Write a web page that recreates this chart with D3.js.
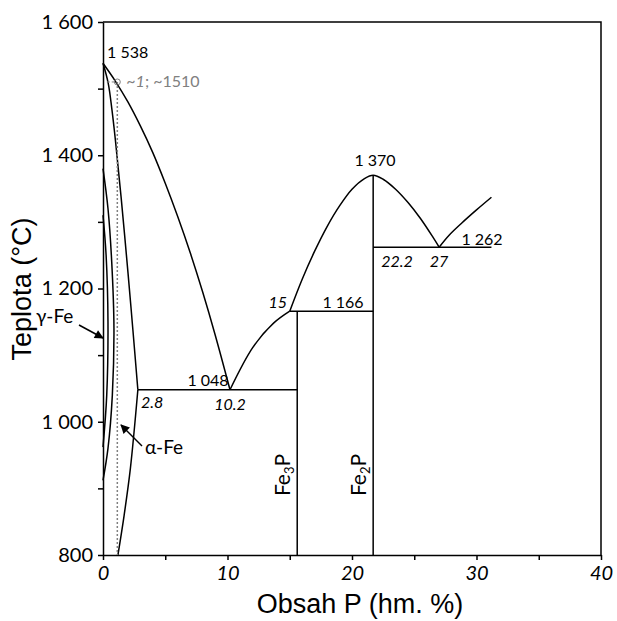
<!DOCTYPE html>
<html>
<head>
  <meta charset="utf-8">
  <title>Fe-P</title>
  <script src="https://cdn.jsdelivr.net/npm/d3@7"></script>
  <style>
    body { margin: 0; background: #fff; }
    text { font-family: Lato, "Open Sans", sans-serif; fill: #000; }
    .tick text { font-size: 20px; }
    .xax .tick text { font-style: italic; }
    .title { font-family: "Liberation Sans", Arial, sans-serif; font-size: 27px; }
    .lab { font-size: 16px; }
    .it { font-style: italic; }
  </style>
</head>
<body>
<svg id="chart" width="617" height="621"></svg>
<script>
  // curves (wt. % P, degC)
  var liquidusFe   = [[0,1538],[1,1511],[2,1480],[3,1444],[4,1404],[5,1358],[6,1308],[7,1254],[8,1195],[9,1131],[10.2,1048]];
  var liquidusFe3P = [[10.2,1048],[12.05,1112],[13.7,1148],[15,1166]];
  var liquidusFe2P = [[15,1166],[16,1214],[17,1256],[18,1293],[19,1324],[20,1349],[21,1365],[21.7,1370],
                      [22.5,1364],[23.5,1349],[24.5,1329],[25.5,1305],[26.5,1277],[27,1262]];
  var liquidusRight = [[27,1262],[27.8,1280],[28.8,1298],[30,1318],[31.2,1337]];
  var solidusUp    = [[0,1538],[0.42,1508],[0.72,1468],[1.0,1422],[1.45,1338],[2.01,1223],[2.4,1138],[2.8,1048]];
  var solidusLow   = [[2.8,1048],[2.2,930],[1.7,860],[1.2,800]];
  var gammaOuter   = [[0,1380],[0.4,1320],[0.7,1240],[0.88,1140],[0.75,1040],[0.4,960],[0,912]];
  var gammaInner   = [[0,1310],[0.25,1250],[0.4,1150],[0.3,1040],[0,962]];
  // horizontal lines [x1, x2, T]
  var isotherms = [[2.8,15.6,1048],[15,21.7,1166],[21.7,31.2,1262]];
  // compounds [x, Ttop]
  var compounds = [[15.6,1166,"Fe","3","P"],[21.7,1370,"Fe","2","P"]];
  var xTicks = [0,5,10,15,20,25,30,35,40];
  var yTicks = [800,900,1000,1100,1200,1300,1400,1500,1600];

  var svg = d3.select("#chart");
  var x = d3.scaleLinear().domain([0,40]).range([103,601]);
  var y = d3.scaleLinear().domain([800,1600]).range([555,22]);

  //axes
  var fmtY = function(d){ return d % 200 ? "" : (d >= 1000 ? Math.floor(d/1000) + " " + String(d%1000).padStart(3,"0") : d); };
  svg.append("g").attr("class","xax").attr("transform","translate(0,555)")
    .call(d3.axisBottom(x).tickValues(xTicks).tickSize(5).tickSizeOuter(0)
      .tickFormat(function(d){ return d % 10 ? "" : d; }))
    .call(function(g){ g.selectAll("text").attr("dy","0.85em"); });
  svg.append("g").attr("transform","translate(103,0)")
    .call(d3.axisLeft(y).tickValues(yTicks).tickSize(5).tickSizeOuter(0).tickFormat(fmtY))
    .call(function(g){ g.selectAll("text").attr("x",-10); });
  svg.selectAll(".domain, .tick line").attr("stroke","#000").attr("stroke-width",1.5);

  svg.append("path")
    .attr("d","M103,22H601V555")
    .attr("fill","none").attr("stroke","#000").attr("stroke-width",1.5);

  var line = d3.line().x(function(d){ return x(d[0]); }).y(function(d){ return y(d[1]); })
    .curve(d3.curveCatmullRom);
  var curves = [liquidusFe, liquidusFe3P, liquidusFe2P, liquidusRight, solidusUp, solidusLow, gammaOuter, gammaInner];
  svg.selectAll(".curve").data(curves).enter().append("path")
    .attr("d", line).attr("fill","none").attr("stroke","#000").attr("stroke-width",1.5);

  svg.selectAll(".iso").data(isotherms).enter().append("line")
    .attr("x1",function(d){ return x(d[0]); }).attr("x2",function(d){ return x(d[1]); })
    .attr("y1",function(d){ return y(d[2]); }).attr("y2",function(d){ return y(d[2]); })
    .attr("stroke","#000").attr("stroke-width",1.5);

  svg.selectAll(".cmp").data(compounds).enter().append("line")
    .attr("x1",function(d){ return x(d[0]); }).attr("x2",function(d){ return x(d[0]); })
    .attr("y1",function(d){ return y(d[1]); }).attr("y2",y(800))
    .attr("stroke","#000").attr("stroke-width",1.5);

  var cl = svg.selectAll(".cmpl").data(compounds).enter().append("text")
    .attr("transform",function(d){ return "translate(" + (x(d[0]) - 7) + ",475) rotate(-90)"; })
    .attr("text-anchor","middle").style("font-size","21px");
  cl.append("tspan").text(function(d){ return d[2]; });
  cl.append("tspan").attr("dy",4).style("font-size","13px").text(function(d){ return d[3]; });
  cl.append("tspan").attr("dy",-4).text(function(d){ return d[4]; });

  // gamma/alpha solubility point ~1 %, ~1510
  var grey = "#808080";
  svg.append("line").attr("x1",x(1.15)).attr("x2",x(1.15)).attr("y1",y(1510)).attr("y2",y(800))
    .attr("stroke",grey).attr("stroke-width",1.5).attr("stroke-dasharray","2,2");
  svg.append("line").attr("x1",x(0.3)).attr("x2",x(1.0)).attr("y1",y(1510)).attr("y2",y(1510))
    .attr("stroke",grey).attr("stroke-width",1).attr("stroke-dasharray","3,2");
  svg.append("circle").attr("cx",x(1.15)).attr("cy",y(1510)).attr("r",3)
    .attr("fill","none").attr("stroke",grey).attr("stroke-width",1);
  var gl = svg.append("text").attr("class","lab").attr("x",x(1.15)+9).attr("y",y(1510)+5).style("fill",grey);
  gl.append("tspan").text("~");
  gl.append("tspan").attr("class","it").style("fill",grey).text("1");
  gl.append("tspan").style("fill",grey).text("; ~1510");

  // value labels
  var labels = [
    [107,58,"1 538","start",false],
    [375,166,"1 370","middle",false],
    [482,245,"1 262","middle",false],
    [397,267,"22.2","middle",true],
    [439,267,"27","middle",true],
    [287,308,"15","end",true],
    [343,308,"1 166","middle",false],
    [208,386,"1 048","middle",false],
    [141,408,"2.8","start",true],
    [230,410,"10.2","middle",true]
  ];
  svg.selectAll(".vl").data(labels).enter().append("text")
    .attr("class",function(d){ return d[4] ? "lab it" : "lab"; })
    .attr("x",function(d){ return d[0]; }).attr("y",function(d){ return d[1]; })
    .attr("text-anchor",function(d){ return d[3]; })
    .text(function(d){ return d[2]; });

  // phase labels with arrows
  svg.append("defs").append("marker").attr("id","ah").attr("viewBox","0 0 10 10")
    .attr("refX",9).attr("refY",5).attr("markerWidth",7).attr("markerHeight",6).attr("orient","auto")
    .append("path").attr("d","M0,0L10,5L0,10z").attr("fill","#000");
  svg.append("text").attr("x",36).attr("y",323).style("font-size","19px").text("γ-Fe");
  svg.append("line").attr("x1",79).attr("y1",325).attr("x2",103).attr("y2",338)
    .attr("stroke","#000").attr("stroke-width",1.5).attr("marker-end","url(#ah)");
  svg.append("text").attr("x",145).attr("y",454).style("font-size","19px").text("α-Fe");
  svg.append("line").attr("x1",142).attr("y1",446).attr("x2",121).attr("y2",425)
    .attr("stroke","#000").attr("stroke-width",1.5).attr("marker-end","url(#ah)");

  // titles
  svg.append("text").attr("class","title").attr("x",360).attr("y",613)
    .attr("text-anchor","middle").text("Obsah P (hm. %)");
  svg.append("text").attr("class","title").attr("transform","translate(31,289) rotate(-90)")
    .attr("text-anchor","middle").text("Teplota (°C)");
</script>
</body>
</html>
